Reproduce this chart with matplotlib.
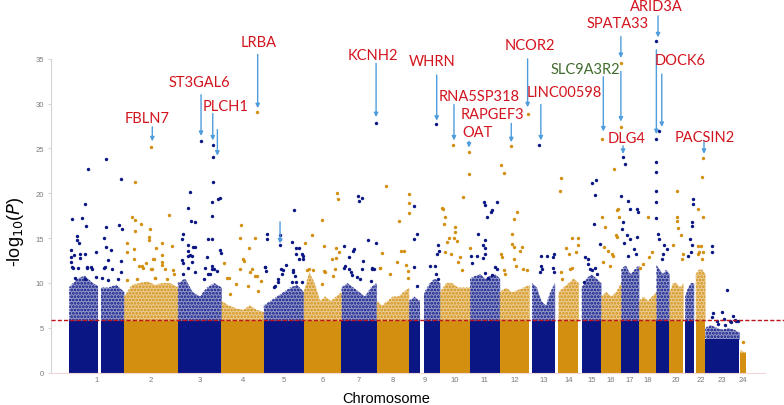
import numpy as np
import matplotlib.pyplot as plt

plt.rcParams['font.family'] = ['Liberation Sans', 'DejaVu Sans']
plt.rcParams['hatch.linewidth'] = 1.3

BLUE = '#0b1685'
ORANGE = '#d38f10'

# chromosome sizes in Mb (hg19), 23 = X, 24 = Y
chrom_len = [249.3, 243.2, 198.0, 191.2, 180.9, 171.1, 159.1, 146.4, 141.2, 135.5, 135.0, 133.9,
             115.2, 107.3, 102.5, 90.4, 81.2, 78.1, 59.1, 63.0, 48.1, 51.3, 155.3, 59.4]
chrom_from = [0, 0, 0, 0, 0, 0, 0, 0, 0, 0, 0, 0, 12, 16, 14, 0, 0, 0, 0, 0, 8, 8, 0, 2]
chrom_to = [249.3, 243.2, 198.0, 191.2, 180.9, 171.1, 159.1, 146.4, 141.2, 135.5, 135.0, 133.9,
            115.2, 107.3, 102.5, 90.4, 81.2, 78.1, 59.1, 63.0, 48.1, 51.3, 155.3, 28.0]
tick_text = ['1', '2', '3', '4', '5', '6', '7', '8', '9', '10', '11', '12', '13', '14', '15', '16',
             '17', '18', '', '20', '', '22', '23', '24']
gap_chr = [1, 9]
gap_from = [130, 50]
gap_to = [145, 68]

# height of the solid block and top of the dense cloud of SNPs
core_top = [5.7] * 22 + [3.7, 2.2]
dense_top = [
    [9.5, 10.5, 10.8, 10.0, 9.5, 9.5, 9.8, 9.0],
    [8.5, 9.8, 10.0, 10.2, 9.8, 10.0, 10.0, 9.5],
    [10.0, 10.5, 9.0, 8.5, 9.5, 10.0, 9.5],
    [8.0, 7.5, 7.2, 7.0, 7.5, 7.0, 6.8],
    [7.5, 8.0, 8.5, 9.0, 9.5, 9.8, 9.0],
    [9.0, 11.2, 10.0, 8.0, 8.5, 8.0, 8.5, 9.0],
    [9.5, 10.0, 9.5, 9.0, 8.5, 9.5, 10.0],
    [8.0, 7.5, 8.0, 8.5, 8.5, 9.0, 9.5],
    [8.0, 8.5, 8.0, 9.0, 10.0, 10.5, 10.0],
    [9.0, 10.0, 10.0, 9.5, 9.5, 9.5],
    [10.5, 10.8, 11.0, 10.5, 10.8, 11.0, 10.5],
    [9.0, 9.5, 9.0, 9.2, 9.5, 9.8],
    [10.0, 9.5, 8.0, 7.5, 9.0, 10.0],
    [9.0, 9.5, 10.0, 10.5, 10.0],
    [9.5, 10.5, 11.0, 10.5, 10.0],
    [8.5, 9.0, 8.5, 9.0, 10.0],
    [11.5, 12.0, 11.0, 11.5, 12.0],
    [8.0, 8.5, 8.0, 8.5, 9.0],
    [12.0, 11.5, 11.0, 11.5, 11.0],
    [9.0, 10.0, 10.0, 9.5, 10.0],
    [8.5, 9.5, 10.0, 10.0],
    [11.0, 11.5, 11.5, 11.0],
    [5.0, 5.3, 5.0, 4.8, 5.0, 4.8, 4.5],
    [2.5, 2.3],
]

# individual SNPs standing out above the cloud, one list per chromosome (position Mb / -log10 P)
hit_pos = [
    [87, 166, 235, 71, 15, 57, 76, 168, 228, 240, 38, 36, 45, 9, 157, 166, 190, 121, 71, 51, 24, 237,
     82, 100, 122, 163, 178, 9, 20, 9, 50, 15, 42, 80, 103, 160, 193, 236, 27, 72, 148, 178, 223],
    [124, 51, 37, 49, 77, 49, 117, 115, 115, 205, 15, 143, 172, 216, 45, 14, 134, 171, 80, 128, 173,
     45, 140, 225, 100, 133, 171, 68, 87, 122, 186, 223, 12, 58, 140, 193],
    [105.5, 161, 161, 160, 56, 45, 60, 78, 22, 20, 48, 68, 78, 47, 56, 64, 154, 154, 183, 192, 139,
     154, 192, 196, 132, 154, 162, 148, 24, 47, 119, 18, 48, 63, 124, 154, 25, 78, 139, 177],
    [159, 87, 84, 152, 126, 100, 11, 34, 129, 162, 64, 180, 24, 84, 137, 152, 167, 121, 39, 99],
    [136, 13, 13, 76, 76, 76, 130, 146, 160, 146, 172, 178, 160, 6, 12, 78, 81, 133, 142, 148, 172,
     51, 66, 100, 6, 48, 89, 134, 179, 127, 66],
    [82, 36, 6, 91, 145, 15, 24, 146, 160, 91, 134, 153, 154, 44, 97, 142, 82, 127],
    [155, 77, 95, 78, 119, 158, 10, 55, 51, 18, 33, 46, 69, 140, 148, 133, 100, 34, 13, 43, 92, 137, 84],
    [43, 102, 92, 24, 17, 61, 145, 145, 145, 111, 126, 133, 144, 144, 16],
    [121, 23, 38, 23, 24, 39, 96, 118, 130, 136, 126, 121, 133],
    [60, 129, 129, 102, 11, 15, 22, 19, 68, 68, 65, 75, 42, 30, 134, 22, 48, 91, 83, 98],
    [65, 68, 98, 95, 121, 75, 38, 68, 58, 68, 4, 30, 10, 68, 60, 113, 121, 98, 68, 83],
    [51, 126, 6, 17, 76, 65, 54, 57, 66, 99, 91, 6, 12, 65, 73, 107, 122, 17, 24],
    [44, 52, 79, 113, 108, 52, 57, 49, 107, 112],
    [27, 24, 76, 53, 64, 27, 31, 68, 76, 105, 104, 96],
    [63, 78, 75, 72, 97, 29, 44, 41, 75, 82, 52, 60, 25],
    [2, 89.5, 89.5, 60, 18, 15, 30, 70, 66, 48, 55, 78, 74, 7, 41, 5, 80],
    [7, 18, 0.5, 33, 40, 70, 75, 7, 3, 25, 40, 15, 70, 60, 66, 33],
    [39, 60, 45, 4, 19],
    [1, 1, 14, 0.5, 0.5, 0.5, 0.5, 1, 37, 48, 10, 13, 32, 28],
    [33.5, 34, 37, 41, 53, 15, 62, 56],
    [46, 45, 38, 41, 31, 41, 35, 23],
    [40, 36, 18, 40, 20, 32, 42, 25, 18, 36],
    [37, 75, 30, 52, 86, 113, 118, 128, 135, 100, 33, 33, 60, 90, 140, 148],
    [18],
]
hit_val = [
    [22.7, 23.8, 21.6, 18.8, 17.1, 17.2, 16.3, 16.2, 16.5, 16.0, 15.2, 14.8, 14.4, 13.7, 15.0, 14.0,
     13.7, 13.5, 13.2, 13.2, 13.1, 12.4, 11.8, 11.8, 10.7, 11.8, 12.5, 12.3, 11.7, 12.9, 12.8, 11.8,
     11.7, 11.7, 11.6, 11.7, 11.6, 11.2, 10.6, 10.4, 10.6, 10.3, 10.4],
    [25.2, 21.3, 17.4, 17.0, 16.6, 15.8, 16.0, 15.1, 14.8, 17.6, 14.5, 13.9, 14.4, 14.1, 13.8, 13.5,
     12.7, 13.1, 11.9, 11.6, 12.0, 12.7, 10.6, 11.0, 12.2, 12.7, 12.3, 11.9, 11.7, 11.5, 11.5, 11.4,
     10.3, 10.4, 10.6, 10.4],
    [25.8, 25.4, 24.0, 21.3, 20.1, 18.4, 16.9, 16.8, 15.5, 14.9, 14.2, 14.0, 14.0, 13.6, 13.1, 13.0,
     19.0, 17.5, 19.4, 19.5, 14.9, 14.9, 13.7, 13.3, 12.9, 11.9, 11.6, 11.0, 12.2, 11.7, 10.4, 12.5,
     13.0, 12.3, 11.7, 11.5, 11.0, 11.2, 11.0, 11.3],
    [29.1, 16.5, 15.0, 15.0, 13.9, 12.4, 12.2, 10.6, 11.2, 10.8, 9.9, 10.2, 10.6, 11.5, 11.5, 10.8,
     9.1, 9.7, 8.8, 12.7],
    [18.1, 15.4, 14.9, 15.3, 14.9, 14.2, 14.6, 13.9, 13.9, 13.2, 13.2, 13.0, 12.7, 11.8, 11.3, 11.5,
     11.0, 11.2, 10.8, 10.1, 10.1, 9.7, 10.1, 12.0, 11.8, 9.5, 11.4, 11.4, 12.7, 10.1, 10.4],
    [17.0, 15.3, 14.5, 14.1, 13.9, 11.4, 11.5, 12.8, 13.4, 11.3, 10.8, 20.0, 19.4, 11.4, 11.2, 11.5,
     9.9, 12.7],
    [27.8, 19.7, 19.5, 19.1, 14.8, 14.5, 14.1, 13.8, 13.6, 11.9, 11.6, 10.9, 10.7, 11.6, 11.6, 10.2,
     12.4, 12.9, 11.7, 11.2, 11.5, 11.7, 10.4],
    [20.8, 16.9, 12.3, 13.3, 11.7, 11.0, 19.9, 18.9, 17.8, 13.6, 13.6, 12.0, 11.3, 10.5, 11.7],
    [27.7, 18.6, 15.5, 14.9, 11.8, 9.7, 11.9, 11.9, 14.2, 13.6, 13.2, 11.0, 10.4],
    [25.4, 24.6, 22.1, 19.6, 18.4, 18.2, 17.4, 16.6, 16.2, 15.7, 15.0, 14.7, 15.0, 14.6, 13.9, 13.5,
     13.2, 12.9, 12.3, 11.4],
    [19.0, 18.7, 18.1, 17.9, 19.0, 17.4, 15.5, 14.8, 14.2, 13.9, 13.0, 13.0, 12.2, 13.2, 12.8, 11.8,
     11.5, 10.9, 11.1, 10.6],
    [25.3, 28.8, 23.2, 22.3, 17.9, 17.1, 15.5, 14.3, 14.0, 14.0, 13.6, 13.2, 12.9, 12.7, 11.9, 11.6,
     11.4, 11.4, 11.0],
    [25.4, 13.0, 13.0, 13.2, 12.9, 11.9, 11.6, 11.2, 11.7, 11.2],
    [21.7, 20.2, 15.0, 13.9, 13.2, 11.2, 10.4, 11.5, 11.7, 15.0, 14.2, 13.4],
    [21.1, 21.5, 19.8, 16.6, 14.3, 12.9, 12.7, 12.1, 11.7, 11.0, 11.6, 11.4, 10.1],
    [26.1, 34.5, 27.4, 22.7, 16.2, 14.0, 13.6, 15.1, 15.3, 13.2, 13.0, 18.2, 18.1, 12.3, 11.9, 17.4, 17.4],
    [24.1, 23.3, 19.7, 19.1, 18.2, 18.2, 17.9, 16.8, 16.0, 15.3, 14.9, 14.5, 15.1, 13.8, 13.2, 13.0],
    [17.3, 13.4, 12.9, 11.7, 12.1],
    [37.0, 26.1, 27.0, 23.5, 22.4, 20.3, 19.0, 17.2, 14.2, 13.8, 15.5, 14.9, 13.2, 12.7],
    [20.3, 17.4, 16.9, 16.1, 15.3, 14.2, 13.2, 12.7],
    [19.4, 18.8, 16.8, 16.3, 14.9, 14.2, 13.4, 13.0],
    [23.9, 21.8, 18.2, 17.4, 14.1, 14.1, 13.5, 13.5, 13.2, 12.7],
    [6.6, 6.8, 6.2, 5.8, 6.0, 5.7, 5.6, 6.3, 5.9, 9.2, 14.1, 13.5, 5.4, 5.3, 5.8, 5.7],
    [3.4],
]

# gene annotations: arrow placed at (chr, pos), tip/tail heights, text offset (Mb) and height
gene = ['FBLN7', 'ST3GAL6', 'PLCH1', '', 'LRBA', '', 'KCNH2', 'WHRN', 'RNA5SP318', 'OAT', 'RAPGEF3',
        'NCOR2', 'LINC00598', 'SLC9A3R2', 'SPATA33', '', 'DLG4', 'ARID3A', '', 'DOCK6', 'PACSIN2']
gene_chr = [2, 3, 3, 3, 4, 5, 7, 9, 10, 10, 12, 12, 13, 16, 16, 16, 17, 19, 19, 19, 22]
gene_pos = [128, 105.5, 158.5, 179.4, 164, 74, 157, 126, 63, 131, 52, 126, 52, 10, 89.5, 89.5, 9, 8, 0.5, 25, 46]
arrow_tip = [25.8, 26.4, 25.9, 24.2, 29.5, 14.4, 28.5, 28.1, 25.9, 25.1, 25.7, 29.6, 25.9, 26.9, 35.1, 28.0, 24.4, 37.4, 26.6, 27.4, 24.4]
arrow_tail = [27.4, 31.0, 28.9, 27.1, 35.5, 16.8, 34.5, 33.2, 29.9, 25.8, 27.8, 35.0, 29.9, 33.0, 37.5, 33.6, 25.3, 39.8, 36.0, 33.3, 25.8]
text_dx = [-24, -9, 59, 0, 3, 0, -15, -19, 115, 40, -86, 8, 106, -83, -15, 0, 16, -8, 0, 85, 4]
text_y = [28.4, 32.4, 29.7, 0, 36.9, 0, 35.4, 34.8, 30.8, 26.8, 28.8, 36.5, 31.3, 33.9, 39.0, 0, 26.2, 40.9, 0, 34.9, 26.3]
gene_color = ['#d2141e'] * 13 + ['#3f6b2c'] + ['#d2141e'] * 7

threshold = 5.86

offset = np.concatenate([[0], np.cumsum(chrom_len)[:-1]])
colors = [BLUE if i % 2 == 0 else ORANGE for i in range(24)]

fig = plt.figure(figsize=(7.84, 4.06), dpi=100)
ax = fig.add_axes([51 / 784, 32.5 / 406, 733 / 784, 373.5 / 406])

for i in range(24):
    x0 = offset[i] + chrom_from[i]
    x1 = offset[i] + chrom_to[i]
    xs = np.linspace(x0, x1, len(dense_top[i]))
    # dense cloud: tint plus a dotted texture
    ax.fill_between(xs, core_top[i], dense_top[i], color=colors[i], alpha=0.45, lw=0, zorder=1)
    ax.fill_between(xs, core_top[i], dense_top[i], facecolor='none', edgecolor=colors[i],
                    hatch='.....', lw=0, zorder=1)
    ax.fill_between([x0, x1], 0, core_top[i], color=colors[i], lw=0, zorder=2)

for c, g0, g1 in zip(gap_chr, gap_from, gap_to):
    ax.axvspan(offset[c - 1] + g0, offset[c - 1] + g1, color='white', lw=0, zorder=3)

for i in range(24):
    ax.scatter(offset[i] + np.array(hit_pos[i]), hit_val[i], s=6, color=colors[i],
               linewidths=0, zorder=4)

ax.axhline(threshold, color='#c0141c', lw=1.0, ls=(0, (3, 1.5)), zorder=5)

for g, c, p, tip, tail, dx, ty, col in zip(gene, gene_chr, gene_pos, arrow_tip, arrow_tail,
                                          text_dx, text_y, gene_color):
    x = offset[c - 1] + p
    ax.annotate('', xy=(x, tip), xytext=(x, tail),
                arrowprops=dict(arrowstyle='-|>', color='#4f9ddc', lw=1.0,
                                mutation_scale=6, shrinkA=0, shrinkB=0),
                annotation_clip=False, zorder=6)
    if g:
        ax.text(x + dx, ty, g, color=col, fontsize=10.5, family='Lato',
                ha='center', va='center', clip_on=False, zorder=6)

mids = [offset[i] + (chrom_from[i] + chrom_to[i]) / 2 for i in range(24)]
ax.set_xticks(mids)
ax.set_xticklabels(tick_text)
ax.set_yticks(range(0, 36, 5))
ax.tick_params(axis='both', labelsize=5.5, labelcolor='#7a7a7a', color='#cccccc', length=2, width=0.6)
ax.tick_params(axis='x', length=0, pad=2.5)
ax.tick_params(axis='y', pad=3)

ax.set_xlim(-81.5, 3238)
ax.set_ylim(0, 41.68)
for s in ['top', 'right']:
    ax.spines[s].set_visible(False)
ax.spines['left'].set_bounds(0, 35)
ax.spines['left'].set_color('#d4d4d4')
ax.spines['bottom'].set_bounds(-81.5, 3152)
ax.spines['bottom'].set_color('#f3d6d6')

fig.text(386 / 784, 1 - 399 / 406, 'Chromosome', fontsize=10.5, ha='center', va='center')
fig.text(16 / 784, 1 - 232 / 406, r'-log$_{10}$($P$)', fontsize=13, rotation=90,
         ha='center', va='center')

fig.savefig('out.png', dpi=100)
